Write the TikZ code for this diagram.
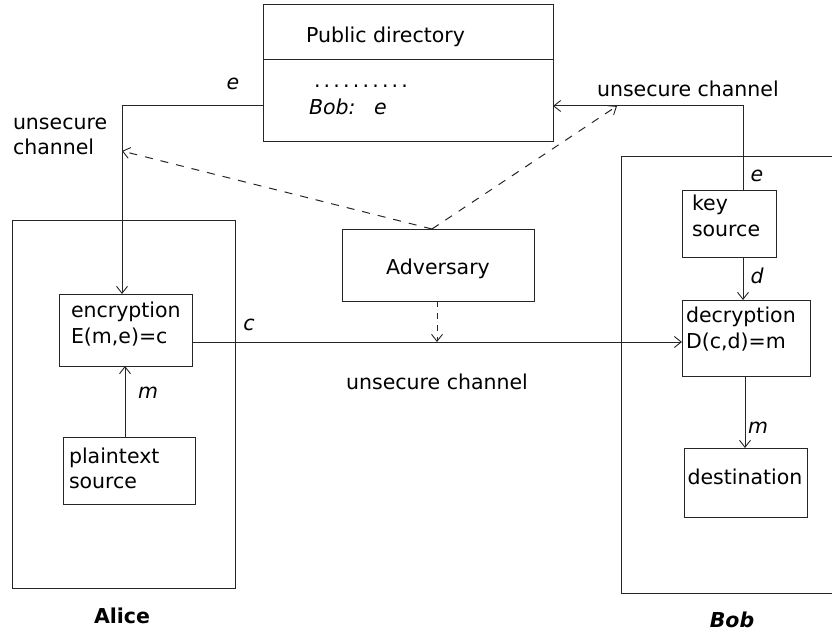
\documentclass[tikz,border=0pt]{standalone}
\usepackage{fontspec}
\setmainfont{DejaVu Sans}
\usetikzlibrary{arrows.meta}
\newcommand{\dotrowtxt}{.\kern3.2pt.\kern3.2pt.\kern3.2pt.\kern3.2pt.\kern3.2pt.\kern3.2pt.\kern3.2pt.\kern3.2pt.\kern3.2pt.}
\begin{document}
\begin{tikzpicture}[x=1pt,y=-1pt,
  font=\fontsize{20.5}{24}\selectfont,
  every node/.style={inner sep=0pt, outer sep=0pt},
  ln/.style={line width=1pt, draw=black!85},
  boxn/.style={ln, draw, rectangle, anchor=north west},
  arr/.style={ln, -{Straight Barb[length=7pt,width=11pt,line width=0.9pt]}},
  dsh/.style={arr, dash pattern=on 8pt off 8pt},
  txt/.style={anchor=base west},
  lbl/.style={anchor=base, font=\fontsize{20.5}{24}\selectfont\itshape}
]
\useasboundingbox (0,0) rectangle (832,631);
\clip (0,0) rectangle (832,631);

% public directory
\node[boxn, minimum width=290pt, minimum height=137pt] (pub) at (263,5) {};
\draw[ln] (263,60) coordinate (divL) -- (553,60) coordinate (divR);
\node[txt] (pubt) at (306,43) {Public directory};
\node[txt] (dots) at (314,88) {\dotrowtxt};
\node[txt, font=\fontsize{20.5}{24}\selectfont\itshape] (bobe) at (309,115) {Bob:};
\node[txt, font=\fontsize{20.5}{24}\selectfont\itshape] (bobee) at (374,115) {e};

% Alice
\node[boxn, minimum width=223pt, minimum height=368pt] (alice) at (12,220) {};
\node[boxn, minimum width=133pt, minimum height=72pt] (enc) at (59,294) {};
\node[txt] (enct1) at (71,317) {encryption};
\node[txt] (enct2) at (71,343) {E(m,e)=c};
\node[boxn, minimum width=132pt, minimum height=67pt] (plain) at (63,437) {};
\node[txt] (pt1) at (69,463) {plaintext};
\node[txt] (pt2) at (69,488) {source};
\node[anchor=base, font=\fontsize{20.5}{24}\selectfont\bfseries] (alicet) at (122,623) {Alice};

% Adversary
\node[boxn, minimum width=192pt, minimum height=72pt] (adv) at (342,229) {};
\node[anchor=base] (advt) at (438,274) {Adversary};

% Bob
\draw[ln] (840,157) -- (621,157) -- (621,593) -- (840,593);
\node[boxn, minimum width=94pt, minimum height=66pt] (key) at (682,191) {};
\node[txt] (kt1) at (692,211) {key};
\node[txt] (kt2) at (692,236) {source};
\node[boxn, minimum width=128pt, minimum height=76pt] (dec) at (682,300) {};
\node[txt] (dt1) at (686,322) {decryption};
\node[txt] (dt2) at (686,348) {D(c,d)=m};
\node[boxn, minimum width=123pt, minimum height=69pt] (dest) at (684,448) {};
\node[anchor=base] (destt) at (745,484) {destination};
\node[anchor=base, font=\fontsize{20.5}{24}\selectfont\bfseries\itshape] (bobt) at (732,627) {Bob};

% coordinates
\coordinate (lc) at (122,106);
\coordinate (rc) at (743,106);
\coordinate (advtop) at (432,229);
\coordinate (tipL) at (122,151);
\coordinate (tipR) at (617,106);

% connectors
\draw[arr] (pub.west |- lc) -- (lc) -- (enc.north -| lc);
\draw[arr] (key.north -| rc) -- (rc) -- (pub.east |- rc);
\draw[arr] (plain.north -| 125,0) -- (enc.south -| 125,0);
\draw[arr] (enc.east |- 0,342) -- (dec.west |- 0,342);
\draw[arr] (key.south -| 743,0) -- (dec.north -| 743,0);
\draw[arr] (dec.south -| 745,0) -- (dest.north -| 745,0);
\draw[dsh, dash pattern=on 6pt off 6pt] (adv.south -| 437,0) -- (437,342);
\draw[dsh] (advtop) -- (tipL);
\draw[dsh] (advtop) -- (tipR);

% labels
\node[lbl] (le) at (233,90) {e};
\node[lbl] (lcc) at (249,330) {c};
\node[lbl] (lm1) at (148,398) {m};
\node[lbl] (le2) at (757,182) {e};
\node[lbl] (ld) at (757,283) {d};
\node[lbl] (lm2) at (758,433) {m};
\node[txt] (uc1) at (13,130) {unsecure};
\node[txt] (uc2) at (13,155) {channel};
\node[txt] (uc3) at (597,97) {unsecure channel};
\node[anchor=base] (uc4) at (437,389) {unsecure channel};
\end{tikzpicture}
\end{document}
